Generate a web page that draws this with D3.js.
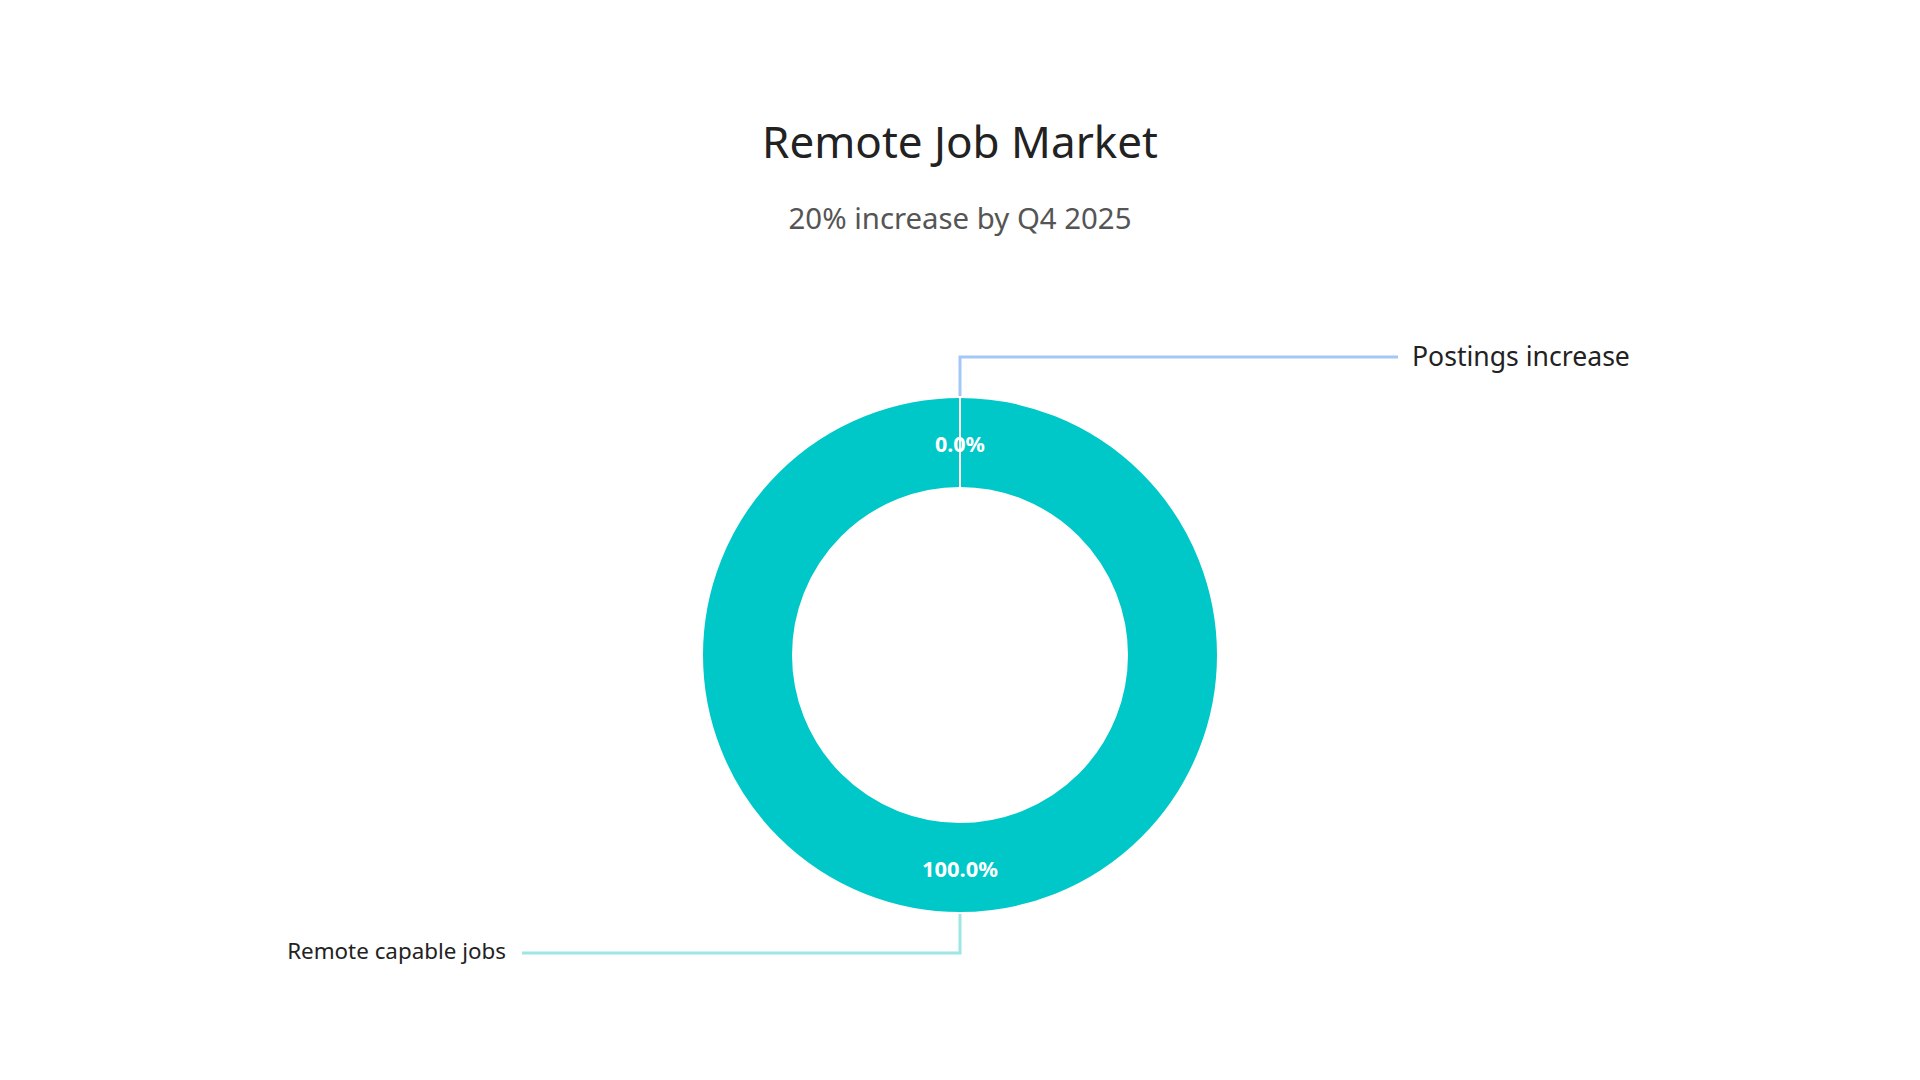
<!DOCTYPE html>
<html>
<head>
<meta charset="utf-8">
<script src="https://cdn.jsdelivr.net/npm/d3@7"></script>
<style>
  html, body { margin: 0; padding: 0; background: #ffffff; }
  svg { display: block; }
  text { font-family: "Noto Sans", "Open Sans", sans-serif; }
</style>
</head>
<body>
<svg id="chart" width="1920" height="1080"></svg>
<script>
// ---- data ----
const titleText = "Remote Job Market";
const subtitleText = "20% increase by Q4 2025";
const categories = ["Postings increase", "Remote capable jobs"];
const values = [0, 100];
const sliceColors = ["#00c8c8", "#00c8c8"];
const lineColors = ["#a3c8f7", "#9ee6e6"];

// ---- layout ----
const cx = 960, cy = 655;
const rOuter = 258, rInner = 167;
const svg = d3.select("#chart");

function fitText(sel, targetWidth) {
  const node = sel.node();
  const fs = parseFloat(sel.attr("font-size"));
  const w = node.getComputedTextLength();
  if (w > 0) sel.attr("font-size", (fs * targetWidth / w).toFixed(2));
  return sel;
}

// title
fitText(svg.append("text")
  .attr("x", cx).attr("y", 141)
  .attr("text-anchor", "middle").attr("dominant-baseline", "central")
  .attr("font-size", 36).attr("fill", "#222222")
  .text(titleText), 396);

fitText(svg.append("text")
  .attr("x", cx).attr("y", 218)
  .attr("text-anchor", "middle").attr("dominant-baseline", "central")
  .attr("font-size", 24).attr("fill", "#555555")
  .text(subtitleText), 343);

// pie
const pie = d3.pie().sort(null).value(d => d).startAngle(0).endAngle(2 * Math.PI);
const arcs = pie(values);
const arc = d3.arc().innerRadius(rInner).outerRadius(rOuter);
const total = d3.sum(values);

const g = svg.append("g").attr("transform", `translate(${cx},${cy})`);

// label lines
const elbowLen = 40;
const labelSpan = 438;
const lineG = g.append("g");
arcs.forEach((a, i) => {
  const mid = (a.startAngle + a.endAngle) / 2;
  const p0 = [Math.sin(mid) * rOuter, -Math.cos(mid) * rOuter];
  const p1 = [Math.sin(mid) * (rOuter + elbowLen), -Math.cos(mid) * (rOuter + elbowLen)];
  const right = i === 0;
  const p2 = [right ? labelSpan : -labelSpan, p1[1]];
  lineG.append("path")
    .attr("d", d3.line()([p0, p1, p2]))
    .attr("fill", "none")
    .attr("stroke", lineColors[i])
    .attr("stroke-width", 3);
  const t = g.append("text")
    .attr("x", right ? p2[0] + 14 : p2[0] - 16)
    .attr("y", right ? p2[1] - 1 : p2[1] - 3)
    .attr("text-anchor", right ? "start" : "end")
    .attr("dominant-baseline", "central")
    .attr("font-size", right ? 24 : 20)
    .attr("fill", "#222222")
    .text(categories[i]);
  fitText(t, right ? 218 : 219);
});

// slices: draw larger first so zero-width boundary stays visible on top
const order = arcs.slice().sort((a, b) => (b.endAngle - b.startAngle) - (a.endAngle - a.startAngle));
g.selectAll("path.slice")
  .data(order)
  .enter().append("path")
  .attr("class", "slice")
  .attr("d", arc)
  .attr("fill", d => sliceColors[d.index])
  .attr("stroke", "#ffffff")
  .attr("stroke-width", 2)
  .attr("stroke-linejoin", "round");

// percentage labels
const fmt = d3.format(".1%");
const pctWidths = [50, 76];
g.selectAll("text.pct")
  .data(arcs)
  .enter().append("text")
  .attr("class", "pct")
  .attr("x", d => arc.centroid(d)[0])
  .attr("y", d => arc.centroid(d)[1] + 1)
  .attr("text-anchor", "middle")
  .attr("dominant-baseline", "central")
  .attr("font-size", 20)
  .attr("font-weight", "bold")
  .attr("fill", "#ffffff")
  .text(d => fmt(d.data / total))
  .each(function(d, i) { fitText(d3.select(this), pctWidths[i]); });
</script>
</body>
</html>
